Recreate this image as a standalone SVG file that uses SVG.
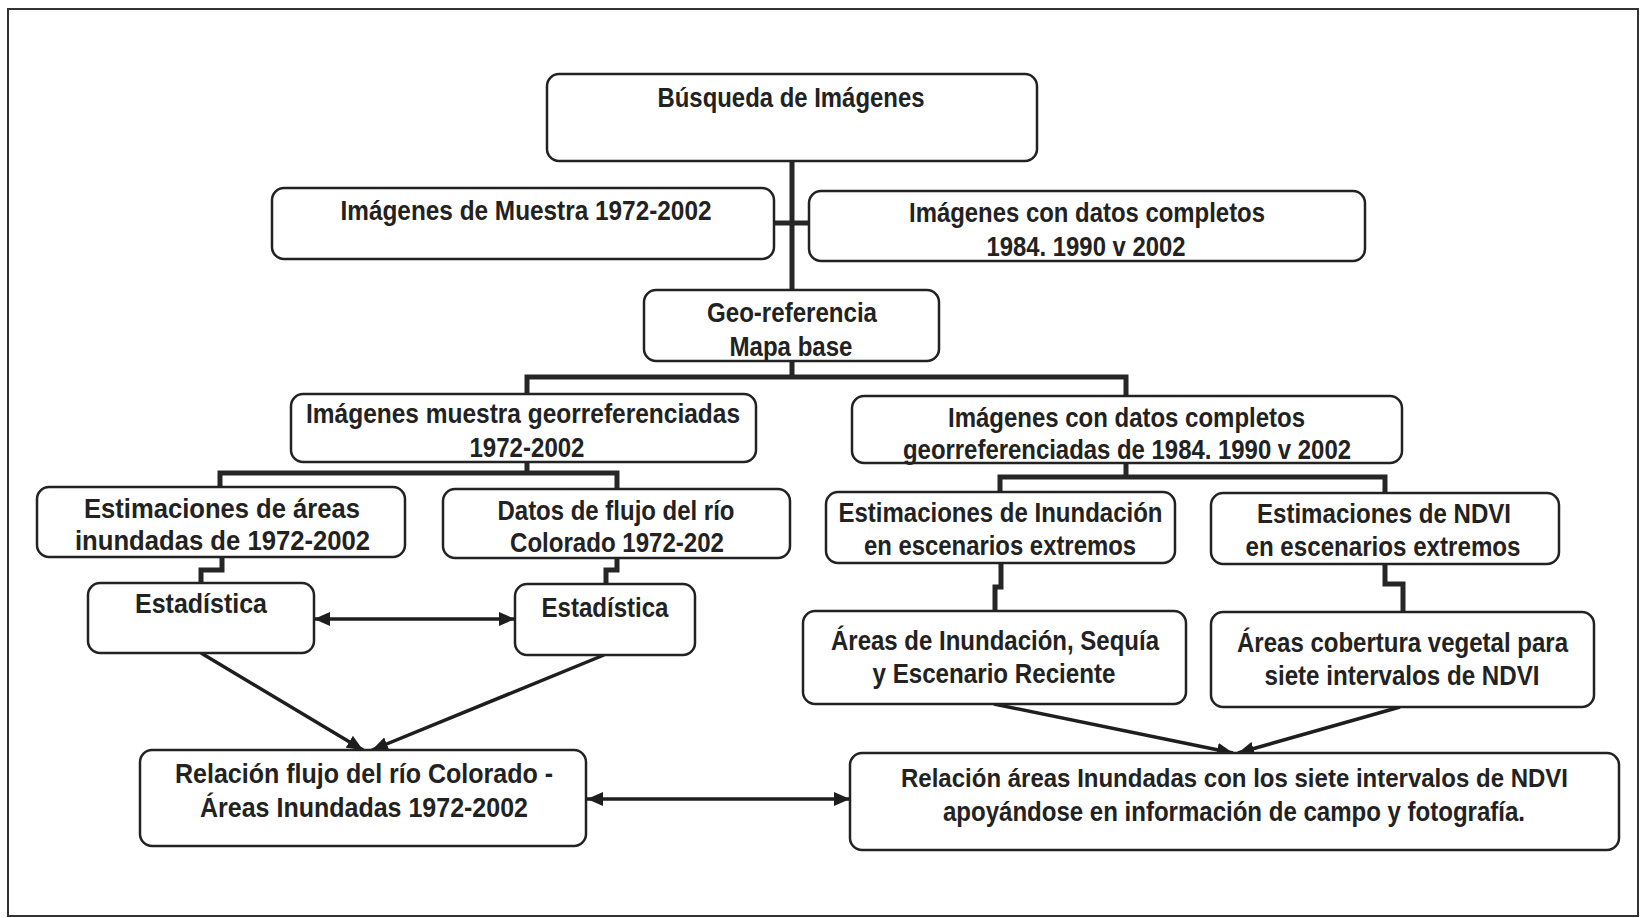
<svg xmlns="http://www.w3.org/2000/svg" width="1641" height="918" viewBox="0 0 1641 918">
<style>
.frame{fill:#fff;stroke:#333;stroke-width:2}
.box{fill:#fff;stroke:#222;stroke-width:2.5}
.t{font-family:"Liberation Sans",Arial,sans-serif;font-weight:bold;font-size:28px;fill:#222;text-anchor:middle}
.c{fill:none;stroke:#262626;stroke-width:5;stroke-linejoin:miter;stroke-linecap:square}
.a{fill:none;stroke:#1e1e1e;stroke-width:3.5}
</style>
<defs>
<marker id="ah" viewBox="0 0 16 14" refX="16" refY="7" markerWidth="16" markerHeight="14" markerUnits="userSpaceOnUse" orient="auto-start-reverse">
<path d="M0,0 L16,7 L0,14 z" fill="#1e1e1e"/>
</marker>
</defs>
<rect class="frame" x="8" y="9" width="1630" height="907"/>
<g id="connectors">
<path class="c" d="M792,161 V290"/>
<path class="c" d="M774,223 H809"/>
<path class="c" d="M792,361 V377 M527,377 H1126 M527,377 V394 M1126,377 V396"/>
<path class="c" d="M527,462 V473 M220,473 H617 M220,473 V487 M617,473 V489"/>
<path class="c" d="M222,557 V570 H201 V583"/>
<path class="c" d="M617,558 V570 H606 V584"/>
<path class="c" d="M1126,463 V477 M1000,477 H1385 M1000,477 V492 M1385,477 V493"/>
<path class="c" d="M1001,563 V587 H995 V611"/>
<path class="c" d="M1385,564 V584 H1403 V612"/>
<path class="a" d="M314,619 H515" marker-start="url(#ah)" marker-end="url(#ah)"/>
<path class="a" d="M201,653 L363,750" marker-end="url(#ah)"/>
<path class="a" d="M604,655 L372,750" marker-end="url(#ah)"/>
<path class="a" d="M587,799 H850" marker-start="url(#ah)" marker-end="url(#ah)"/>
<path class="a" d="M994,704 L1233,753" marker-end="url(#ah)"/>
<path class="a" d="M1400,707 L1238,753" marker-end="url(#ah)"/>
</g>
<g id="n1"><rect class="box" x="547" y="74" width="490" height="87" rx="12"/>
<text class="t" x="791" y="107" textLength="267" lengthAdjust="spacingAndGlyphs">Búsqueda de Imágenes</text></g>
<g id="n2"><rect class="box" x="272" y="188" width="502" height="71" rx="12"/>
<text class="t" x="526" y="220" textLength="371" lengthAdjust="spacingAndGlyphs">Imágenes de Muestra 1972-2002</text></g>
<g id="n3"><rect class="box" x="809" y="191" width="556" height="70" rx="12"/>
<text class="t" x="1087" y="222" textLength="356" lengthAdjust="spacingAndGlyphs">Imágenes con datos completos</text>
<text class="t" x="1086" y="256" textLength="199" lengthAdjust="spacingAndGlyphs">1984. 1990 v 2002</text></g>
<g id="n4"><rect class="box" x="644" y="290" width="295" height="71" rx="12"/>
<text class="t" x="792" y="322" textLength="170" lengthAdjust="spacingAndGlyphs">Geo-referencia</text>
<text class="t" x="791" y="356" textLength="123" lengthAdjust="spacingAndGlyphs">Mapa base</text></g>
<g id="n5"><rect class="box" x="291" y="394" width="465" height="68" rx="12"/>
<text class="t" x="523" y="423" textLength="434" lengthAdjust="spacingAndGlyphs">Imágenes muestra georreferenciadas</text>
<text class="t" x="527" y="457" textLength="115" lengthAdjust="spacingAndGlyphs">1972-2002</text></g>
<g id="n6"><rect class="box" x="852" y="396" width="550" height="67" rx="12"/>
<text class="t" x="1126.5" y="427" textLength="357" lengthAdjust="spacingAndGlyphs">Imágenes con datos completos</text>
<text class="t" x="1127" y="459" textLength="448" lengthAdjust="spacingAndGlyphs">georreferenciadas de 1984. 1990 v 2002</text></g>
<g id="n7"><rect class="box" x="37" y="487" width="368" height="70" rx="12"/>
<text class="t" x="222" y="518" textLength="276" lengthAdjust="spacingAndGlyphs">Estimaciones de áreas</text>
<text class="t" x="222.5" y="550" textLength="295" lengthAdjust="spacingAndGlyphs">inundadas de 1972-2002</text></g>
<g id="n8"><rect class="box" x="443" y="489" width="347" height="69" rx="12"/>
<text class="t" x="616" y="520" textLength="237" lengthAdjust="spacingAndGlyphs">Datos de flujo del río</text>
<text class="t" x="617" y="552" textLength="214" lengthAdjust="spacingAndGlyphs">Colorado 1972-202</text></g>
<g id="n9"><rect class="box" x="88" y="583" width="226" height="70" rx="12"/>
<text class="t" x="201" y="613" textLength="132" lengthAdjust="spacingAndGlyphs">Estadística</text></g>
<g id="n10"><rect class="box" x="515" y="584" width="180" height="71" rx="12"/>
<text class="t" x="605" y="617" textLength="127" lengthAdjust="spacingAndGlyphs">Estadística</text></g>
<g id="n11"><rect class="box" x="140" y="750" width="446" height="96" rx="12"/>
<text class="t" x="364" y="783" textLength="378" lengthAdjust="spacingAndGlyphs">Relación flujo del río Colorado -</text>
<text class="t" x="364" y="817" textLength="328" lengthAdjust="spacingAndGlyphs">Áreas Inundadas 1972-2002</text></g>
<g id="n12"><rect class="box" x="826" y="492" width="349" height="71" rx="12"/>
<text class="t" x="1000.5" y="522" textLength="324" lengthAdjust="spacingAndGlyphs">Estimaciones de Inundación</text>
<text class="t" x="1000" y="555" textLength="272" lengthAdjust="spacingAndGlyphs">en escenarios extremos</text></g>
<g id="n13"><rect class="box" x="1211" y="493" width="348" height="71" rx="12"/>
<text class="t" x="1384" y="523" textLength="254" lengthAdjust="spacingAndGlyphs">Estimaciones de NDVI</text>
<text class="t" x="1383" y="556" textLength="275" lengthAdjust="spacingAndGlyphs">en escenarios extremos</text></g>
<g id="n14"><rect class="box" x="803" y="611" width="383" height="93" rx="12"/>
<text class="t" x="995" y="650" textLength="328" lengthAdjust="spacingAndGlyphs">Áreas de Inundación, Sequía</text>
<text class="t" x="994" y="683" textLength="243" lengthAdjust="spacingAndGlyphs">y Escenario Reciente</text></g>
<g id="n15"><rect class="box" x="1211" y="612" width="383" height="95" rx="12"/>
<text class="t" x="1402.5" y="652" textLength="331" lengthAdjust="spacingAndGlyphs">Áreas cobertura vegetal para</text>
<text class="t" x="1402" y="685" textLength="275" lengthAdjust="spacingAndGlyphs">siete intervalos de NDVI</text></g>
<g id="n16"><rect class="box" x="850" y="753" width="769" height="97" rx="12"/>
<text class="t" x="1234.5" y="787" style="font-size:26px" textLength="667" lengthAdjust="spacingAndGlyphs">Relación áreas Inundadas con los siete intervalos de NDVI</text>
<text class="t" x="1234" y="821" textLength="582" lengthAdjust="spacingAndGlyphs">apoyándose en información de campo y fotografía.</text></g>
</svg>
